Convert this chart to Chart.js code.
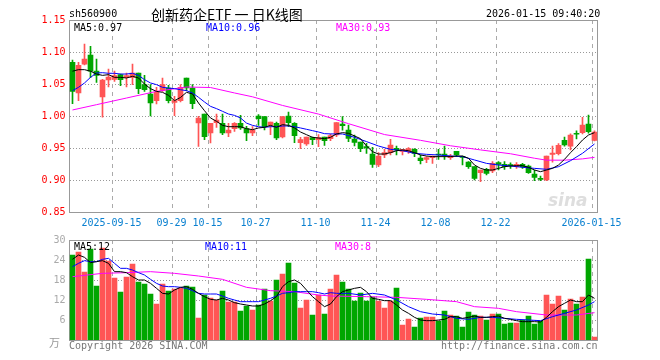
<!DOCTYPE html>
<html>
<head>
<meta charset="utf-8">
<script src="https://cdn.jsdelivr.net/npm/chart.js@4/dist/chart.umd.min.js"></script>
<style>
body { margin: 0; background: #fff; width: 660px; height: 360px; position: relative; overflow: hidden; font-family: "DejaVu Sans Mono", monospace; }
canvas { position: absolute; left: 0; }
.t { position: absolute; font-size: 10px; line-height: 12px; white-space: nowrap; }
</style>
</head>
<body>
<canvas id="kChart" width="660" height="230" style="top:0"></canvas>
<canvas id="volChart" width="660" height="130" style="top:230px"></canvas>

<div class="t" style="left:69px;top:8px;color:#000">sh560900</div>
<div class="t" style="left:151px;top:4px;font:14px/20px 'Noto Sans CJK SC';color:#000">创新药企ETF 一 日K线图</div>
<div class="t" style="left:486px;top:8px;color:#000">2026-01-15 09:40:20</div>
<div class="t" style="left:74px;top:22px;color:#000">MA5:0.97</div>
<div class="t" style="left:206px;top:22px;color:#0000ff">MA10:0.96</div>
<div class="t" style="left:336px;top:22px;color:#ff00ff">MA30:0.93</div>
<div class="t" style="left:548px;top:190px;font:italic bold 17px 'DejaVu Sans';color:#dedede">sina</div>
<div class="t" style="left:74px;top:241px;color:#000">MA5:12</div>
<div class="t" style="left:205px;top:241px;color:#0000ff">MA10:11</div>
<div class="t" style="left:335px;top:241px;color:#ff00ff">MA30:8</div>
<div class="t" style="left:49px;top:334px;font:11px 'Noto Sans CJK SC';color:#999">万</div>
<div class="t" style="left:69px;top:340px;color:#777">Copyright 2026 SINA.COM</div>
<div class="t" style="left:441px;top:340px;color:#777">http://finance.sina.com.cn</div>

<script>
// trading days shown
var dates = [
  "2025-09-04","2025-09-05","2025-09-08","2025-09-09","2025-09-10","2025-09-11","2025-09-12",
  "2025-09-15","2025-09-16","2025-09-17","2025-09-18","2025-09-19",
  "2025-09-22","2025-09-23","2025-09-24","2025-09-25","2025-09-26",
  "2025-09-29","2025-09-30","2025-10-09","2025-10-10",
  "2025-10-13","2025-10-14","2025-10-15","2025-10-16","2025-10-17",
  "2025-10-20","2025-10-21","2025-10-22","2025-10-23","2025-10-24",
  "2025-10-27","2025-10-28","2025-10-29","2025-10-30","2025-10-31",
  "2025-11-03","2025-11-04","2025-11-05","2025-11-06","2025-11-07",
  "2025-11-10","2025-11-11","2025-11-12","2025-11-13","2025-11-14",
  "2025-11-17","2025-11-18","2025-11-19","2025-11-20","2025-11-21",
  "2025-11-24","2025-11-25","2025-11-26","2025-11-27","2025-11-28",
  "2025-12-01","2025-12-02","2025-12-03","2025-12-04","2025-12-05",
  "2025-12-08","2025-12-09","2025-12-10","2025-12-11","2025-12-12",
  "2025-12-15","2025-12-16","2025-12-17","2025-12-18","2025-12-19",
  "2025-12-22","2025-12-23","2025-12-24","2025-12-25","2025-12-26",
  "2025-12-29","2025-12-30","2025-12-31",
  "2026-01-05","2026-01-06","2026-01-07","2026-01-08","2026-01-09",
  "2026-01-12","2026-01-13","2026-01-14","2026-01-15"
];

var opens = [1.084,1.036,1.081,1.095,1.070,1.0297,1.0563,1.0573,1.0646,1.0604,
  1.0604,1.0672,1.049,1.0344,1.024,1.040,1.0437,1.0214,1.024,1.0594,
  1.0437,0.989,1.0031,0.9734,0.9896,0.9885,0.9734,0.9802,0.9885,0.9802,
  0.9734,1.000,0.999,0.9854,0.9885,0.9672,1.000,0.9885,0.9583,0.9563,
  0.9661,0.963,0.9672,0.9646,0.9703,0.9875,0.9781,0.964,0.9594,0.9521,
  0.9406,0.9234,0.939,0.9427,0.9495,0.9448,0.9448,0.9479,0.9344,0.9323,
  0.9349,0.9406,0.9406,0.9349,0.9448,0.9365,0.9281,0.9208,0.9115,0.9167,
  0.9141,0.9271,0.9245,0.9235,0.9208,0.9245,0.9219,0.9094,0.9026,0.900,
  0.940,0.941,0.962,0.953,0.973,0.974,0.9875,0.962];
var highs = [1.0875,1.084,1.1125,1.109,1.089,1.0573,1.0734,1.070,1.0656,1.0672,
  1.0813,1.0672,1.0635,1.049,1.0448,1.0594,1.048,1.0307,1.049,1.0594,
  1.049,0.9995,1.0031,0.9885,1.0031,1.0031,0.9885,0.9896,1.001,0.9839,
  0.9833,1.0021,0.999,0.9906,0.9906,0.999,1.0063,0.9896,0.9667,0.9672,
  0.9672,0.9708,0.9672,0.9719,0.9896,0.999,0.9859,0.9703,0.9594,0.9573,
  0.951,0.9427,0.948,0.9635,0.9531,0.9479,0.9505,0.949,0.9391,0.9365,
  0.9375,0.9479,0.9531,0.9401,0.9448,0.9375,0.9286,0.9208,0.9156,0.9182,
  0.9286,0.9286,0.9286,0.927,0.9271,0.926,0.9234,0.9156,0.9063,0.9375,
  0.953,0.957,0.967,0.972,0.977,0.998,1.0016,0.977];
var lows = [1.0193,1.024,1.080,1.060,1.0526,0.998,1.0453,1.054,1.0474,1.0453,
  1.049,1.0349,1.0385,1.000,1.0188,1.0385,1.0203,1.0005,1.0219,1.0396,
  1.0115,0.9526,0.963,0.9578,0.9823,0.9708,0.9677,0.976,0.9792,0.9615,
  0.9693,0.9854,0.9781,0.9708,0.963,0.9656,0.9833,0.9583,0.949,0.9542,
  0.9552,0.9521,0.9542,0.9615,0.9677,0.978,0.9599,0.9531,0.9443,0.9417,
  0.9198,0.9208,0.935,0.9391,0.9391,0.9391,0.9417,0.9365,0.925,0.9271,
  0.926,0.9323,0.9323,0.9323,0.9365,0.9234,0.9182,0.900,0.8974,0.9078,
  0.9115,0.9156,0.9167,0.918,0.9182,0.9182,0.9104,0.899,0.899,0.899,
  0.928,0.939,0.953,0.947,0.964,0.972,0.973,0.961];
var closes = [1.0385,1.079,1.089,1.070,1.0635,1.0563,1.061,1.063,1.0568,1.063,
  1.0672,1.0427,1.0411,1.0203,1.0375,1.049,1.024,1.024,1.0448,1.0437,
  1.0193,0.9969,0.9677,0.9885,0.9938,0.9734,0.9781,0.9885,0.9813,0.9734,
  0.9781,0.9958,0.9833,0.9906,0.9656,0.999,0.9896,0.9693,0.963,0.9672,
  0.963,0.9661,0.9615,0.9693,0.9896,0.985,0.9651,0.9589,0.949,0.950,
  0.9245,0.9375,0.943,0.9547,0.9469,0.9479,0.949,0.9417,0.9302,0.9349,
  0.9375,0.9391,0.9385,0.9375,0.9391,0.9354,0.9208,0.9026,0.9156,0.9104,
  0.926,0.9245,0.9208,0.9225,0.9245,0.9208,0.9115,0.9042,0.901,0.9375,
  0.942,0.954,0.955,0.970,0.9715,0.986,0.9755,0.975];

// volume, 万手
var volumes = [25.5,26.4,20.4,27.3,16.2,27.6,23.7,18.6,14.4,18.9,
  22.8,17.4,16.8,13.8,10.8,16.8,14.7,15.3,15.6,16.2,
  15.9,6.6,13.5,12.6,12.0,14.7,11.4,11.4,8.7,10.2,
  9.0,10.5,15.3,11.7,18.0,19.8,23.1,17.1,9.6,12.0,
  7.5,13.5,7.8,15.3,19.5,17.4,15.3,11.7,14.1,11.7,
  12.9,11.7,9.6,11.7,15.6,4.5,6.3,3.9,6.6,6.9,
  6.9,5.7,8.7,7.5,7.2,3.9,8.4,7.5,7.2,6.0,
  7.8,7.8,4.8,5.1,5.1,6.0,7.2,4.8,5.7,13.5,
  10.8,13.2,9.0,12.3,10.8,12.9,24.3,0.9];

// moving averages
var ma5Price = [1.070,1.0724,1.0724,1.070,1.0656,1.0635,1.0646,1.0604,1.0604,1.0594,
  1.062,1.0594,1.050,1.0427,1.0385,1.037,1.0323,1.024,1.029,1.037,
  1.0344,1.0203,1.0083,0.9969,0.9917,0.9854,0.9833,0.9833,0.9833,0.9802,
  0.9786,0.9813,0.9823,0.9854,0.9823,0.9865,0.9854,0.9813,0.975,0.9708,
  0.9667,0.9656,0.9646,0.9667,0.9719,0.974,0.9729,0.9688,0.9646,0.9531,
  0.9443,0.9406,0.9406,0.9427,0.9458,0.9469,0.9458,0.9427,0.9391,0.9375,
  0.9365,0.9365,0.9365,0.9365,0.9375,0.9375,0.9339,0.9234,0.9182,0.9156,
  0.9156,0.9182,0.9208,0.9219,0.9224,0.9224,0.9198,0.9156,0.913,0.9156,
  0.9182,0.9234,0.9323,0.9427,0.9521,0.9625,0.9703,0.974];
var ma10Price = [1.0396,1.0448,1.0516,1.0604,1.0672,1.0677,1.0667,1.0667,1.0656,1.0656,
  1.0667,1.0635,1.0568,1.0516,1.049,1.0448,1.0437,1.0427,1.0411,1.0396,
  1.036,1.0292,1.0219,1.0151,1.0115,1.0073,1.0031,1.001,0.9969,0.9889,
  0.9854,0.9833,0.9823,0.9833,0.9833,0.9844,0.9844,0.9833,0.9813,0.9792,
  0.9771,0.975,0.9724,0.972,null,0.9719,null,0.9667,null,0.960,
  null,0.9531,null,0.9479,null,0.9458,null,0.9417,null,0.9401,
  null,0.9391,null,0.9375,null,0.9365,null,0.9313,null,0.926,
  null,0.9234,null,0.9219,null,0.9198,null,0.9182,null,0.9167,
  null,0.9208,null,0.9302,null,0.9417,null,0.9563];
var ma30PriceBars = [1,5,10,15,20,24,28,31,36,42,47,53,59,64,69,74,78,80,83,86,88];
var ma30Price = [1.0094,1.0177,1.0281,1.0385,1.0453,1.0445,1.036,1.030,1.0165,1.003,0.988,
  0.971,0.962,0.9535,0.947,0.941,0.934,0.931,0.931,0.933,0.9354];

var ma5Vol = [24.2,25.5,24.8,23.2,23.5,23.8,23.0,20.5,20.5,20.2,
  19,18,18,17,15.5,14,13.8,15,15.8,16,
  15.2,14,13,12.2,12,12.5,12,11.2,10.8,10.5,
  10.2,10.2,10.8,11.8,13,16,17.5,18,17,15,
  13,11.5,10,10.8,13,14.5,15,15.5,15.8,14.5,
  12.5,12.2,11.8,11.8,10.5,9,8,6.8,6,5.8,
  5.8,6,6.2,7,7,6.5,6.8,7.2,6.8,6.8,
  7,7.2,6.5,6.2,5.8,5.5,5.5,5.5,5.4,6.8,
  8.5,10,11,12,11.5,11.5,13.5,12.5];
var ma10Vol = [22,23,23.8,23.5,23.5,24.2,24.5,23,21.5,21.5,
  21,20.2,19.5,18.2,17,16.2,16,16,15.8,15.5,
  14.8,14,13.8,13.8,13.8,13.2,12.5,12,11.5,11.5,
  11.5,11.5,12,12.5,13.2,14,14.2,14.5,14.5,14.5,
  14.5,14.2,13.8,14.2,14,null,14,null,13.5,null,
  14,null,13.5,null,12,null,10,null,8.5,null,
  7.8,null,7.5,null,6.5,null,6.2,null,6.8,null,
  6.8,null,6.5,null,6.2,null,6,null,5.8,null,
  7,null,8,null,9,null,10.5,11.5];
var ma30VolBars = [1,6,10,14,18,22,26,30,34,38,42,44,50,55,60,65,68,72,75,80,85,88];
var ma30Vol = [19,20,20.2,20.5,20,19.2,18.2,15.8,14.8,14.5,13.5,13.2,13,12.8,12.2,11.5,10,9.5,8.5,7.5,7.5,8.2];

var tickDates = ["2025-09-15","2025-09-29","2025-10-15","2025-10-27","2025-11-10","2025-11-24","2025-12-08","2025-12-22","2026-01-15"];
var tickText = ["2025-09-15","09-29","10-15","10-27","11-10","11-24","12-08","12-22","2026-01-15"];

var upColor = "#ff5555";
var downColor = "#00a600";
var candleColors = closes.map(function (c, i) { return c >= opens[i] ? upColor : downColor; });
var tickIdx = tickDates.map(function (d) { return dates.indexOf(d); });

function pts(bars, vals) {
  return bars.map(function (b, k) { return { x: dates[b - 1], y: vals[k] }; });
}
function maLine(data, color) {
  return { type: "line", data: data, borderColor: color, borderWidth: 1, pointRadius: 0, tension: 0, spanGaps: true, order: 0 };
}

// frame + dotted/dashed grid, placed from the scales
var frame = {
  id: "frame",
  beforeDatasetsDraw: function (chart) {
    var a = chart.chartArea, c = chart.ctx;
    var xs = chart.scales.x, ys = chart.scales.y;
    var left = Math.round(a.left), right = Math.round(a.right);
    var top = Math.round(a.top), bottom = Math.round(a.bottom);
    var slot = (a.right - a.left) / dates.length;
    c.save();
    c.fillStyle = "#999999";
    ys.ticks.forEach(function (t) {
      var y = Math.round(ys.getPixelForValue(t.value));
      for (var x = left; x < right; x += 3) c.fillRect(x, y, 1, 1);
    });
    c.fillStyle = "#aaaaaa";
    tickIdx.forEach(function (i) {
      var x = Math.round(xs.getPixelForValue(i) - slot / 2);
      for (var y = top; y < bottom; y += 8) c.fillRect(x, y, 1, Math.min(4, bottom - y));
    });
    c.strokeStyle = "#999";
    c.lineWidth = 1;
    c.strokeRect(Math.floor(a.left) + 0.5, Math.floor(a.top) + 0.5, Math.round(a.right - a.left), Math.round(a.bottom - a.top));
    c.restore();
  }
};

var monoFont = { family: "DejaVu Sans Mono", size: 10 };

new Chart(document.getElementById("kChart"), {
  type: "bar",
  data: {
    labels: dates,
    datasets: [
      maLine(ma5Price, "#000000"),
      maLine(ma10Price, "#0000ff"),
      maLine(pts(ma30PriceBars, ma30Price), "#ff00ff"),
      { type: "bar", data: lows.map(function (l, i) { return [l, highs[i]]; }), backgroundColor: candleColors, barThickness: 1, grouped: false, order: 2 },
      { type: "bar", data: opens.map(function (o, i) { return [o, closes[i]]; }), backgroundColor: candleColors, barThickness: 5, grouped: false, minBarLength: 1, order: 1 }
    ]
  },
  options: {
    responsive: false,
    animation: false,
    devicePixelRatio: 1,
    layout: { padding: { left: 0, right: 62.5, top: 20, bottom: 0 } },
    plugins: { legend: { display: false }, tooltip: { enabled: false } },
    scales: {
      x: {
        offset: true,
        grid: { display: false, drawTicks: false },
        border: { display: false },
        ticks: {
          autoSkip: false, maxRotation: 0, padding: 5, labelOffset: -3,
          color: "#0a80d0", font: monoFont,
          callback: function (v, i) { var k = tickDates.indexOf(dates[i]); return k >= 0 ? tickText[k] : ""; }
        },
        afterFit: function (s) { s.height = 18; }
      },
      y: {
        min: 0.85, max: 1.15,
        ticks: { stepSize: 0.05, padding: 4, color: "#ff0000", font: monoFont, callback: function (v) { return v.toFixed(2); } },
        grid: { display: false, drawTicks: false },
        border: { display: false },
        afterFit: function (s) { s.width = 69.5; }
      }
    }
  },
  plugins: [frame]
});

new Chart(document.getElementById("volChart"), {
  type: "bar",
  data: {
    labels: dates,
    datasets: [
      maLine(ma5Vol, "#000000"),
      maLine(ma10Vol, "#0000ff"),
      maLine(pts(ma30VolBars, ma30Vol), "#ff00ff"),
      { type: "bar", data: volumes, backgroundColor: candleColors, barThickness: 5, order: 1 }
    ]
  },
  options: {
    responsive: false,
    animation: false,
    devicePixelRatio: 1,
    layout: { padding: { left: 0, right: 62.5, top: 10, bottom: 20 } },
    plugins: { legend: { display: false }, tooltip: { enabled: false } },
    scales: {
      x: {
        offset: true,
        grid: { display: false, drawTicks: false },
        border: { display: false },
        ticks: { display: false, autoSkip: false },
        afterFit: function (s) { s.height = 0; }
      },
      y: {
        min: 0, max: 30,
        ticks: { stepSize: 6, padding: 4, color: "#aaa", font: monoFont, callback: function (v) { return v === 0 ? "" : v; } },
        grid: { display: false, drawTicks: false },
        border: { display: false },
        afterFit: function (s) { s.width = 69.5; }
      }
    }
  },
  plugins: [frame]
});
</script>
</body>
</html>
